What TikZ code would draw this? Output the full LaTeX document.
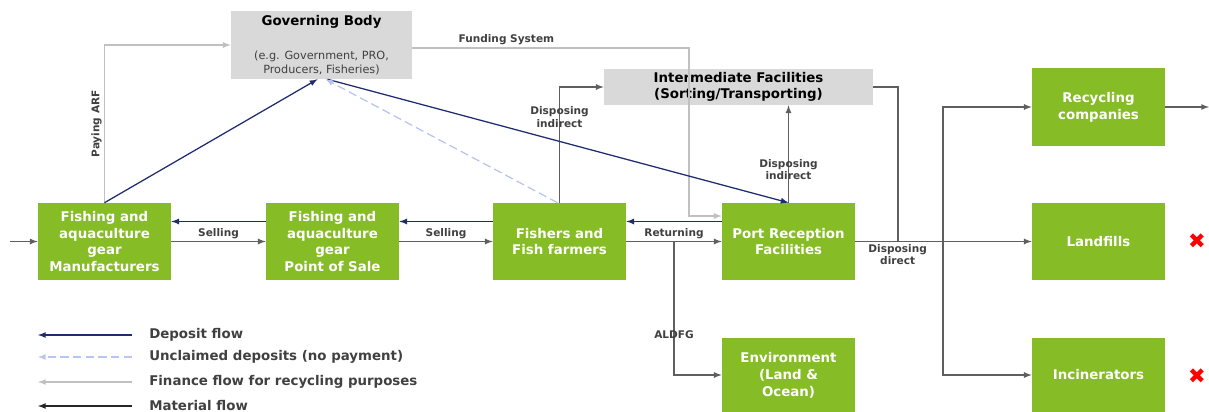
\documentclass[tikz,border=0pt]{standalone}
\usepackage{fontspec}
\setmainfont{DejaVu Sans}
\usetikzlibrary{calc}

\definecolor{gearGreen}{HTML}{86BC25}
\definecolor{boxGray}{HTML}{D9D9D9}
\definecolor{matGray}{HTML}{5F5F5F}
\definecolor{finGray}{HTML}{C0C0C0}
\definecolor{depNavy}{HTML}{1F2C70}
\definecolor{uncBlue}{HTML}{B8C4F2}
\definecolor{lblGray}{HTML}{404040}

\begin{document}
\begin{tikzpicture}[x=0.025cm,y=-0.025cm,
    box/.style={fill=gearGreen,text=white,font=\fontsize{9.5}{12}\selectfont\bfseries,
      align=center,minimum width=3.325cm,minimum height=1.925cm,inner sep=1pt},
    gbox/.style={fill=boxGray,text=black,align=center,inner sep=1pt},
    mat/.style={draw=matGray,line width=0.9pt,-latex},
    dep/.style={draw=depNavy,line width=0.9pt,-latex},
    fin/.style={draw=finGray,line width=0.9pt,-latex},
    unc/.style={draw=uncBlue,line width=0.9pt,dashed,dash pattern=on 6pt off 3pt,-latex},
    lbl/.style={text=lblGray,font=\fontsize{7.5}{9}\selectfont\bfseries,align=center,inner sep=1.5pt},
    lgd/.style={text=lblGray,font=\fontsize{9.5}{12}\selectfont\bfseries,anchor=west,inner sep=0pt}]
  \useasboundingbox (0,0) rectangle (1209,412);

  % main chain of actors
  \node(manuf)[box] at (104.5,241.5) {Fishing and\\aquaculture\\gear\\Manufacturers};
  \node(pos)[box] at (332.5,241.5) {Fishing and\\aquaculture\\gear\\Point of Sale};
  \node(fishers)[box] at (559.5,241.5) {Fishers and\\Fish farmers};
  \node(port)[box] at (788.5,241.5) {Port Reception\\Facilities};
  \node(env)[box,minimum height=1.85cm] at (788.5,375) {Environment\\(Land \&\\Ocean)};

  % end of life
  \node(recyc)[box,minimum height=1.95cm] at (1098.5,107) {Recycling\\companies};
  \node(landf)[box] at (1098.5,241.5) {Landfills};
  \node(incin)[box,minimum height=1.85cm] at (1098.5,375) {Incinerators};
  \node(xland)[text=red,font=\fontsize{15}{15}\selectfont] at (1197,241.5) {✖};
  \node(xincin)[text=red,font=\fontsize{15}{15}\selectfont] at (1197,376) {✖};

  % grey boxes
  \node(govern)[gbox,minimum width=4.525cm,minimum height=1.7cm,text=lblGray,
    font=\fontsize{8}{10}\selectfont] at (321.5,45)
    {\fontsize{9.5}{12}\selectfont\bfseries\color{black}Governing Body\\[14pt]
     (e.g. Government, PRO,\\Producers, Fisheries)};
  \node(inter)[gbox,minimum width=6.725cm,minimum height=0.9cm,
    font=\fontsize{9.5}{11.5}\selectfont\bfseries] at (738.5,87)
    {Intermediate Facilities\\(Sorting/Transporting)};

  \coordinate (src) at (10,241.5);
  \coordinate (join) at (898,241.5);
  \coordinate (split) at (943,241.5);
  \coordinate (out) at (1209,107);
  \coordinate (fundturn) at (689,216);

  % material flow
  \draw[mat] (src) -- (manuf);
  \draw[mat] (manuf.east) -- node[lbl,above]{Selling} (pos.west);
  \draw[mat] (pos.east) -- node[lbl,above]{Selling} (fishers.west);
  \draw[mat] (fishers.east) -- node[lbl,above]{Returning} (port.west);
  \draw[mat] ($(fishers.east)!.5!(port.west)$) |- node[lbl,pos=.35]{ALDFG} (env.west);
  \draw[mat] (fishers.north) |- node[lbl,pos=.37]{Disposing\\indirect} (inter.west);
  \draw[mat] (port.north) -- node[lbl,pos=.34]{Disposing\\indirect} (port.north |- inter.south);
  \draw[matGray,line width=0.9pt] (inter.east) -| (join);
  \draw[mat] (port.east) -- node[lbl,below,pos=.24]{Disposing\\direct} (landf.west);
  \draw[mat] (split) |- (recyc.west);
  \draw[mat] (split) |- (incin.west);
  \draw[mat] (recyc.east) -- (out);

  % finance flow
  \draw[fin] (manuf.north) |- node[lbl,pos=.25,rotate=90,above]{Paying ARF} (govern.west);
  \draw[fin] ([yshift=-0.075cm]govern.east) -| node[lbl,pos=.17,above]{Funding System} (fundturn)
    -- (port.west |- fundturn);

  % deposit flow
  \draw[dep] ([yshift=0.5cm]pos.west) -- ([yshift=0.5cm]manuf.east);
  \draw[dep] ([yshift=0.5cm]fishers.west) -- ([yshift=0.5cm]pos.east);
  \draw[dep] ([yshift=0.5cm]port.west) -- ([yshift=0.5cm]fishers.east);
  \draw[dep] (manuf.north) -- ([xshift=-0.1cm]govern.south);
  \draw[dep] ([xshift=0.15cm]govern.south) -- (port.north);
  \draw[unc] ([xshift=-0.05cm]fishers.north) -- ([xshift=0.1cm]govern.south);

  % legend
  \node(lgdep)[lgd] at (149,335) {Deposit flow};
  \node(lgunc)[lgd] at (149,357) {Unclaimed deposits (no payment)};
  \node(lgfin)[lgd] at (149,382) {Finance flow for recycling purposes};
  \node(lgmat)[lgd] at (149,406) {Material flow};
  \draw[dep] ([xshift=-0.425cm]lgdep.west) -- ++(-94,0);
  \draw[unc] ([xshift=-0.425cm]lgunc.west) -- ++(-94,0);
  \draw[fin] ([xshift=-0.425cm]lgfin.west) -- ++(-94,0);
  \draw[draw=black!85,line width=0.9pt,-latex] ([xshift=-0.425cm]lgmat.west) -- ++(-94,0);
\end{tikzpicture}
\end{document}
